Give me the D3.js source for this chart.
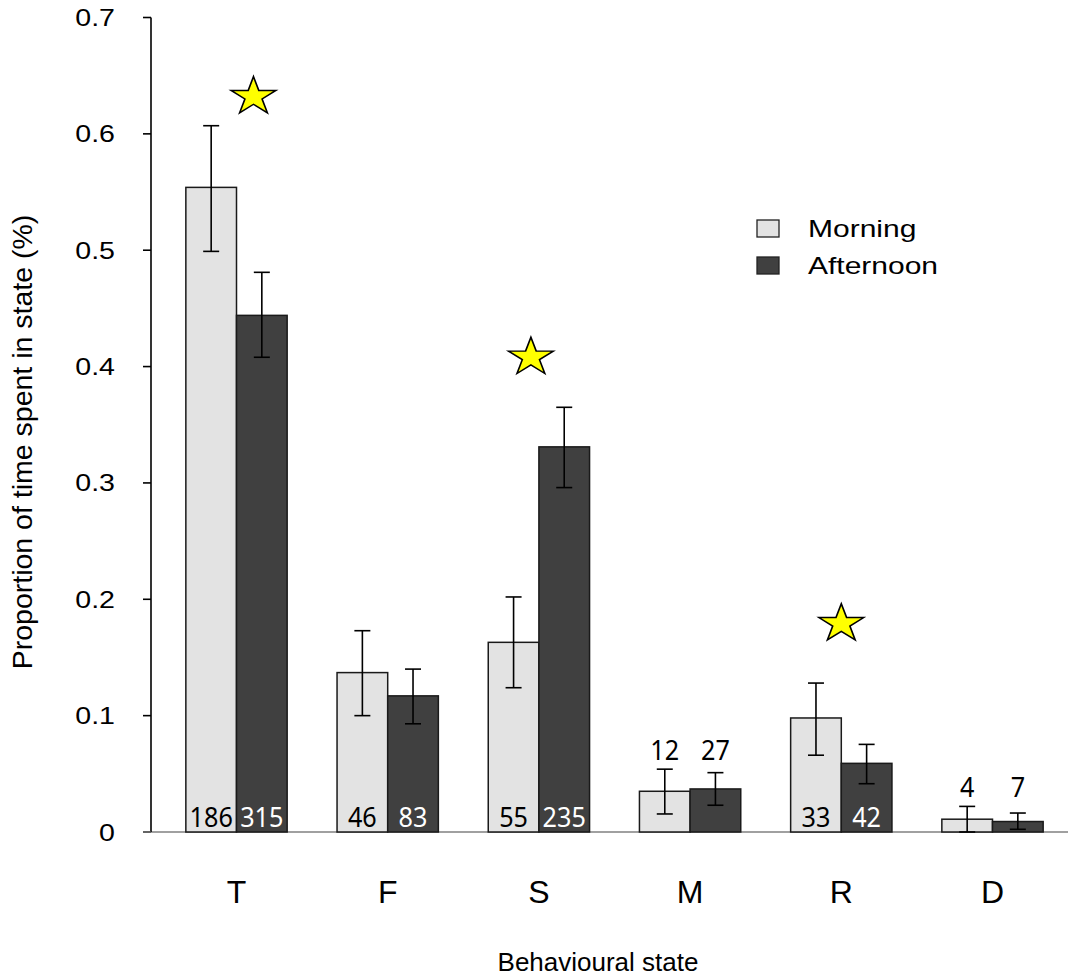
<!DOCTYPE html>
<html>
<head>
<meta charset="utf-8">
<script src="https://cdn.jsdelivr.net/npm/d3@7"></script>
<style>
  html, body { margin: 0; padding: 0; background: #fff; }
  svg { display: block; }
  text { font-family: "Liberation Sans", Arial, sans-serif; fill: #000; }
</style>
</head>
<body>
<script>
// Behavioural states and time-of-day groups
const states = ["T", "F", "S", "M", "R", "D"];
const periods = ["Morning", "Afternoon"];

// Mean proportion of time spent in each state
const morningMean = [0.554, 0.137, 0.163, 0.035, 0.098, 0.011];
const afternoonMean = [0.444, 0.117, 0.331, 0.037, 0.059, 0.009];

// Error bar limits
const morningLow = [0.499, 0.100, 0.124, 0.0155, 0.066, 0.0];
const morningHigh = [0.607, 0.173, 0.202, 0.054, 0.128, 0.022];
const afternoonLow = [0.408, 0.093, 0.296, 0.023, 0.0415, 0.0023];
const afternoonHigh = [0.481, 0.140, 0.365, 0.051, 0.0753, 0.0163];

// Number of observations
const morningN = [186, 46, 55, 12, 33, 4];
const afternoonN = [315, 83, 235, 27, 42, 7];

// States with a significant morning/afternoon difference
const starStates = ["T", "S", "R"];
const starLevel = [0.632, 0.408, 0.179];
const starNudge = [17, -8, 0];

const yTicks = [0, 0.1, 0.2, 0.3, 0.4, 0.5, 0.6, 0.7];

const W = 1068, H = 977;
const svg = d3.select("body").append("svg").attr("width", W).attr("height", H);

const y = d3.scaleLinear().domain([0, 0.7]).range([832, 17.5]);
const x = d3.scaleBand().domain(states).range([160.9, 160.9 + 6 * 151.2])
  .paddingInner(0.33).paddingOuter(0.165);
const xi = d3.scaleBand().domain(periods).range([0, x.bandwidth()]);
const fill = { Morning: "#e3e3e3", Afternoon: "#404040" };
const ink = { Morning: "#000", Afternoon: "#fff" };

const rows = [];
states.forEach((s, i) => {
  rows.push({ state: s, period: "Morning", mean: morningMean[i], lo: morningLow[i], hi: morningHigh[i], n: morningN[i] });
  rows.push({ state: s, period: "Afternoon", mean: afternoonMean[i], lo: afternoonLow[i], hi: afternoonHigh[i], n: afternoonN[i] });
});

// Baseline across the plot
svg.append("line")
  .attr("x1", 143).attr("x2", W).attr("y1", y(0)).attr("y2", y(0))
  .attr("stroke", "#808080").attr("stroke-width", 1.6);

// Bars
svg.append("g").selectAll("rect").data(rows).join("rect")
  .attr("x", d => x(d.state) + xi(d.period))
  .attr("y", d => y(d.mean))
  .attr("width", xi.bandwidth())
  .attr("height", d => y(0) - y(d.mean))
  .attr("fill", d => fill[d.period])
  .attr("stroke", "#1a1a1a").attr("stroke-width", 1.5);

// Error bars
const cap = 8;
const eb = svg.append("g").attr("stroke", "#000").attr("stroke-width", 1.6);
rows.forEach(d => {
  const cx = x(d.state) + xi(d.period) + xi.bandwidth() / 2;
  eb.append("line").attr("x1", cx).attr("x2", cx).attr("y1", y(d.lo)).attr("y2", y(d.hi));
  eb.append("line").attr("x1", cx - cap).attr("x2", cx + cap).attr("y1", y(d.lo)).attr("y2", y(d.lo));
  eb.append("line").attr("x1", cx - cap).attr("x2", cx + cap).attr("y1", y(d.hi)).attr("y2", y(d.hi));
});

// Sample sizes: inside tall bars, above the error bars for short ones
const nLayer = svg.append("g");
states.forEach(s => {
  const grp = rows.filter(r => r.state === s);
  const short = d3.min(grp, r => r.mean) < 0.045;
  const topY = d3.min(grp, r => y(r.hi));
  grp.forEach(d => {
    const cx = x(d.state) + xi(d.period) + xi.bandwidth() / 2;
    nLayer.append("text")
      .attr("transform", `translate(${cx},${short ? topY - 9 : 827}) scale(0.9,1)`)
      .attr("text-anchor", "middle")
      .style("font-family", "'Noto Sans', 'Open Sans', sans-serif")
      .style("font-size", "28px")
      .style("fill", short ? "#000" : ink[d.period])
      .text(d.n);
  });
});

// Y axis
const yAxis = svg.append("g").attr("transform", "translate(151,0)");
yAxis.append("line").attr("x1", 0).attr("x2", 0).attr("y1", y(0.7)).attr("y2", y(0))
  .attr("stroke", "#000").attr("stroke-width", 1.6);
yTicks.forEach(t => {
  yAxis.append("line").attr("x1", -8).attr("x2", 0).attr("y1", y(t)).attr("y2", y(t))
    .attr("stroke", t === 0 ? "#555" : "#000").attr("stroke-width", 1.6);
  yAxis.append("text")
    .attr("transform", `translate(-36,${y(t) + 8.5}) scale(1.19,1)`)
    .attr("text-anchor", "end")
    .style("font-size", "24px")
    .text(t === 0 ? "0" : d3.format(".1f")(t));
});

// Category labels
svg.append("g").selectAll("text").data(states).join("text")
  .attr("x", d => x(d) + x.bandwidth() / 2)
  .attr("y", 903)
  .attr("text-anchor", "middle")
  .style("font-size", "32px")
  .text(d => d);

// Axis titles
svg.append("text")
  .attr("x", 598).attr("y", 971)
  .attr("text-anchor", "middle")
  .style("font-size", "26px")
  .text("Behavioural state");

svg.append("text")
  .attr("transform", "translate(32,442) rotate(-90)")
  .attr("text-anchor", "middle")
  .style("font-size", "28.5px")
  .text("Proportion of time spent in state (%)");

// Significance stars
const star = d3.symbol().type(d3.symbolStar).size(450);
svg.append("g").selectAll("path").data(starStates).join("path")
  .attr("transform", (d, i) => `translate(${x(d) + x.bandwidth() / 2 + starNudge[i]},${y(starLevel[i])}) scale(1.18,1)`)
  .attr("d", star)
  .attr("fill", "#ffff00")
  .attr("stroke", "#000").attr("stroke-width", 1.4);

// Legend
const lg = svg.append("g").attr("transform", "translate(757,220)");
periods.forEach((p, i) => {
  lg.append("rect").attr("x", 0).attr("y", i * 37).attr("width", 22).attr("height", 17)
    .attr("fill", fill[p]).attr("stroke", "#222").attr("stroke-width", 1.3);
  lg.append("text")
    .attr("transform", `translate(51,${i * 37 + 17}) scale(1.25,1)`)
    .style("font-size", "24px")
    .text(p);
});
</script>
</body>
</html>
